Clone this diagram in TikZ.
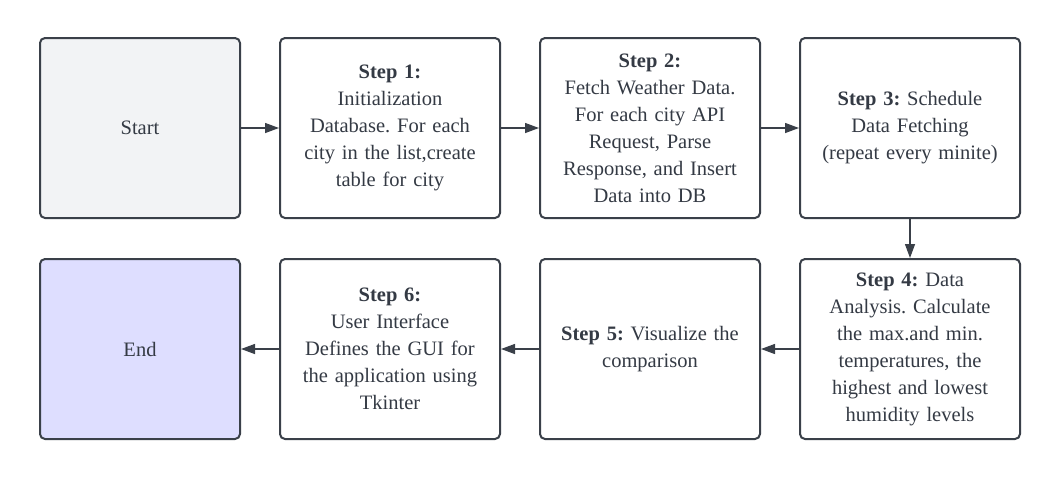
\documentclass[tikz,border=0pt]{standalone}
\usepackage{fontspec}
\setmainfont{Liberation Serif}
\usepackage{xcolor}
\usetikzlibrary{arrows.meta}
\definecolor{lineColor}{HTML}{3A4049}
\definecolor{textColor}{HTML}{343A44}
\definecolor{startColor}{HTML}{F2F3F5}
\definecolor{endColor}{HTML}{DEDEFF}
\frenchspacing

\begin{document}
\begin{tikzpicture}[x=1pt, y=-1pt,
    stepbox/.style={draw=lineColor, line width=2pt, rounded corners=5pt,
        fill=white, text=textColor, align=center, inner sep=0pt,
        minimum width=220pt, minimum height=180pt, text width=214pt,
        font=\fontsize{20.5}{27}\selectfont},
    flow/.style={-{Triangle[length=14pt,width=10pt]}, line width=1.3pt, draw=lineColor}]
    \useasboundingbox (0,0) rectangle (1060,480);
    % top row
    \node[stepbox, fill=startColor, minimum width=200pt, text width=190pt] (start) at (140,128) {Start};
    \node[stepbox] (init) at (390,128) {\textbf{Step 1:}\\ Initialization\\ Database. For each\\ city in the list,create\\ table for city};
    \node[stepbox] (fetch) at (650,128) {\textbf{Step 2:}\\ Fetch Weather Data.\\ For each city API\\ Request, Parse\\ Response, and Insert\\ Data into DB};
    \node[stepbox] (sched) at (910,128) {\textbf{Step 3:} Schedule\\ Data Fetching\\ (repeat every minite)};
    % bottom row
    \node[stepbox] (analysis) at (910,349) {\textbf{Step 4:} Data\\ Analysis. Calculate\\ the max.and min.\\ temperatures, the\\ highest and lowest\\ humidity levels};
    \node[stepbox] (visual) at (650,349) {\textbf{Step 5:} Visualize the\\ comparison};
    \node[stepbox] (gui) at (390,349) {\textbf{Step 6:}\\ User Interface\\ Defines the GUI for\\ the application using\\ Tkinter};
    \node[stepbox, fill=endColor, minimum width=200pt, text width=190pt] (end) at (140,349) {End};
    % connectors
    \draw[flow] (start) -- (init);
    \draw[flow] (init) -- (fetch);
    \draw[flow] (fetch) -- (sched);
    \draw[flow] (sched) -- (analysis);
    \draw[flow] (analysis) -- (visual);
    \draw[flow] (visual) -- (gui);
    \draw[flow] (gui) -- (end);
\end{tikzpicture}
\end{document}
